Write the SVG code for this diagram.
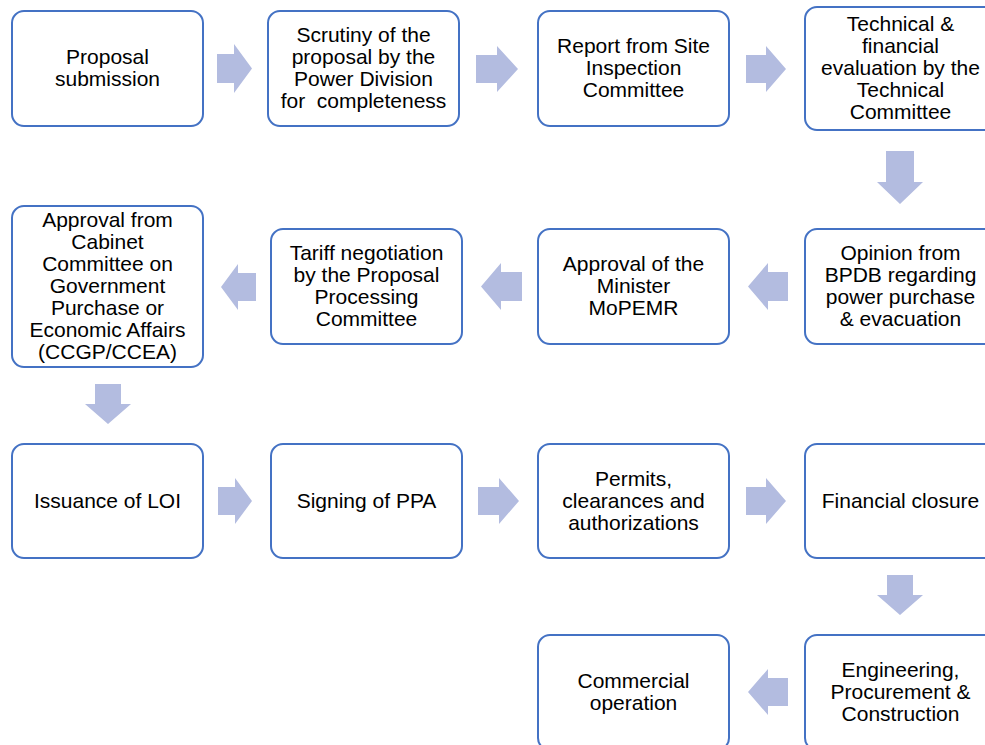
<svg xmlns="http://www.w3.org/2000/svg" width="985" height="745" viewBox="0 0 985 745">
<style>
.box{fill:#fff;stroke:#4472C4;stroke-width:2}
.arr{fill:#B3BCE0}
text{font-family:"Liberation Sans",Arial,sans-serif;font-size:21px;fill:#000;text-anchor:middle}
</style>
<rect width="985" height="745" fill="#fff"/>
<g id="connectors">
<path class="arr" d="M217,54 H234 V44 L252,68.5 L234,93 V83 H217 Z"/>
<path class="arr" d="M476,55 H497 V46 L518,69 L497,92 V83 H476 Z"/>
<path class="arr" d="M746,55 H766 V46 L786,69 L766,92 V83 H746 Z"/>
<path class="arr" d="M886,151 H914 V182 H923 L900,204 L877,182 H886 Z"/>
<path class="arr" d="M788,272 H768 V263 L748,286.5 L768,310 V301 H788 Z"/>
<path class="arr" d="M522,272 H501 V263 L481,286.5 L501,310 V301 H522 Z"/>
<path class="arr" d="M256,273 H238 V264 L221,287 L238,310 V301 H256 Z"/>
<path class="arr" d="M95,384 H121 V404 H131 L108,424 L85,404 H95 Z"/>
<path class="arr" d="M218,487 H235 V478 L252,501 L235,524 V515 H218 Z"/>
<path class="arr" d="M478,487 H499 V478 L519,501 L499,524 V515 H478 Z"/>
<path class="arr" d="M746,487 H766 V478 L786,501 L766,524 V515 H746 Z"/>
<path class="arr" d="M887,575 H913 V595 H923 L900,615 L877,595 H887 Z"/>
<path class="arr" d="M788,678 H768 V669 L748,692 L768,715 V706 H788 Z"/>
</g>
<g id="n1"><rect class="box" x="12" y="11" width="191" height="115" rx="12"/>
<text x="107.5" y="64">Proposal</text><text x="107.5" y="86">submission</text></g>
<g id="n2"><rect class="box" x="268" y="11" width="191" height="115" rx="12"/>
<text x="363.5" y="42">Scrutiny of the</text><text x="363.5" y="64">proposal by the</text><text x="363.5" y="86">Power Division</text><text x="363.5" y="108" xml:space="preserve">for  completeness</text></g>
<g id="n3"><rect class="box" x="538" y="11" width="191" height="115" rx="12"/>
<text x="633.5" y="53">Report from Site</text><text x="633.5" y="75">Inspection</text><text x="633.5" y="97">Committee</text></g>
<g id="n4"><rect class="box" x="805" y="7" width="191" height="123" rx="12"/>
<text x="900.5" y="31">Technical &amp;</text><text x="900.5" y="53">financial</text><text x="900.5" y="75">evaluation by the</text><text x="900.5" y="97">Technical</text><text x="900.5" y="119">Committee</text></g>
<g id="n5"><rect class="box" x="805" y="229" width="191" height="115" rx="12"/>
<text x="900.5" y="260">Opinion from</text><text x="900.5" y="282">BPDB regarding</text><text x="900.5" y="304">power purchase</text><text x="900.5" y="326">&amp; evacuation</text></g>
<g id="n6"><rect class="box" x="538" y="229" width="191" height="115" rx="12"/>
<text x="633.5" y="271">Approval of the</text><text x="633.5" y="293">Minister</text><text x="633.5" y="315">MoPEMR</text></g>
<g id="n7"><rect class="box" x="271" y="229" width="191" height="115" rx="12"/>
<text x="366.5" y="260">Tariff negotiation</text><text x="366.5" y="282">by the Proposal</text><text x="366.5" y="304">Processing</text><text x="366.5" y="326">Committee</text></g>
<g id="n8"><rect class="box" x="12" y="206" width="191" height="161" rx="12"/>
<text x="107.5" y="227">Approval from</text><text x="107.5" y="249">Cabinet</text><text x="107.5" y="271">Committee on</text><text x="107.5" y="293">Government</text><text x="107.5" y="315">Purchase or</text><text x="107.5" y="337">Economic Affairs</text><text x="107.5" y="359">(CCGP/CCEA)</text></g>
<g id="n9"><rect class="box" x="12" y="444" width="191" height="114" rx="12"/>
<text x="107.5" y="508">Issuance of LOI</text></g>
<g id="n10"><rect class="box" x="271" y="444" width="191" height="114" rx="12"/>
<text x="366.5" y="508">Signing of PPA</text></g>
<g id="n11"><rect class="box" x="538" y="444" width="191" height="114" rx="12"/>
<text x="633.5" y="486">Permits,</text><text x="633.5" y="508">clearances and</text><text x="633.5" y="530">authorizations</text></g>
<g id="n12"><rect class="box" x="805" y="444" width="191" height="114" rx="12"/>
<text x="900.5" y="508">Financial closure</text></g>
<g id="n13"><rect class="box" x="805" y="635" width="191" height="115" rx="12"/>
<text x="900.5" y="677">Engineering,</text><text x="900.5" y="699">Procurement &amp;</text><text x="900.5" y="721">Construction</text></g>
<g id="n14"><rect class="box" x="538" y="635" width="191" height="115" rx="12"/>
<text x="633.5" y="688">Commercial</text><text x="633.5" y="710">operation</text></g>
</svg>
